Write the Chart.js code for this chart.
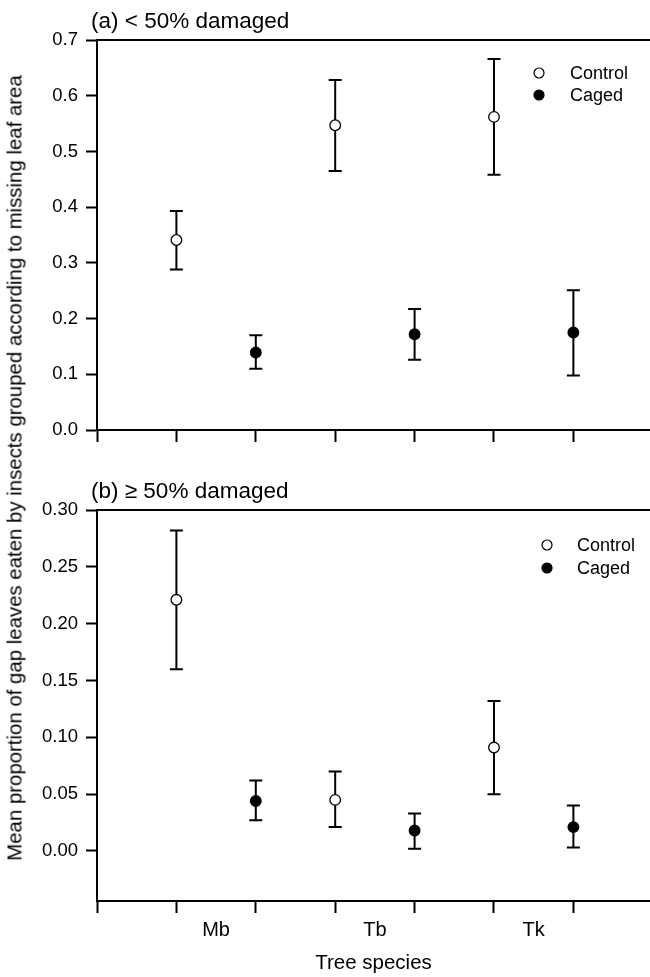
<!DOCTYPE html>
<html>
<head>
<meta charset="utf-8">
<script src="https://cdn.jsdelivr.net/npm/chart.js@4.4.1/dist/chart.umd.min.js"></script>
<style>
  body { margin: 0; background: #fff; }
  #wrap { position: relative; width: 650px; height: 977px; }
  canvas { position: absolute; left: 0; }
  #lowChart { top: 0; }
  #highChart { top: 460px; }
  #yTitle {
    position: absolute; left: 15px; top: 468px;
    transform: translate(-50%, -50%) rotate(-90deg);
    white-space: nowrap; color: #000;
    font: 20.4px "Liberation Sans", Arial, sans-serif;
  }
</style>
</head>
<body>
<div id="wrap">
  <canvas id="lowChart" width="650" height="460"></canvas>
  <canvas id="highChart" width="650" height="517"></canvas>
  <div id="yTitle">Mean proportion of gap leaves eaten by insects grouped according to missing leaf area</div>
</div>
<script>
//------------------------------------------------------------
// data
const species = ['Mb', 'Tb', 'Tk'];
const controlSlot = [1, 3, 5];
const cagedSlot = [2, 4, 6];
const speciesSlot = [1.5, 3.5, 5.5];

// (a) < 50% damaged
const lowControlMean = [0.341, 0.547, 0.562];
const lowControlLower = [0.288, 0.465, 0.458];
const lowControlUpper = [0.393, 0.628, 0.666];
const lowCagedMean = [0.139, 0.172, 0.175];
const lowCagedLower = [0.110, 0.126, 0.098];
const lowCagedUpper = [0.170, 0.217, 0.251];

// (b) >= 50% damaged
const highControlMean = [0.221, 0.045, 0.091];
const highControlLower = [0.160, 0.021, 0.050];
const highControlUpper = [0.282, 0.070, 0.132];
const highCagedMean = [0.044, 0.018, 0.021];
const highCagedLower = [0.027, 0.002, 0.003];
const highCagedUpper = [0.062, 0.033, 0.040];

const lowTicks = [0, 0.1, 0.2, 0.3, 0.4, 0.5, 0.6, 0.7];
const highTicks = [0, 0.05, 0.10, 0.15, 0.20, 0.25, 0.30];
const xTickValues = [0, 1, 1.5, 2, 3, 3.5, 4, 5, 5.5, 6];

//------------------------------------------------------------
const FONT = '"Liberation Sans", Arial, sans-serif';
Chart.defaults.font.family = FONT;
Chart.defaults.color = '#000';

const points = (slots, mean, lower, upper) =>
    slots.map((x, i) => ({ x: x, y: mean[i], lo: lower[i], hi: upper[i] }));

//----------------------------------
const errorBars = {
    id: 'errorBars',
    beforeDatasetsDraw(chart, args, opts) {
        const { ctx, scales: { x, y } } = chart;
        ctx.save();
        ctx.strokeStyle = '#000';
        ctx.lineWidth = 2;
        chart.data.datasets.forEach(ds => {
            ds.data.forEach(p => {
                const px = x.getPixelForValue(p.x);
                const top = y.getPixelForValue(p.hi);
                const bot = y.getPixelForValue(p.lo);
                ctx.beginPath();
                ctx.moveTo(px, top); ctx.lineTo(px, bot);
                ctx.moveTo(px - opts.cap, top); ctx.lineTo(px + opts.cap, top);
                ctx.moveTo(px - opts.cap, bot); ctx.lineTo(px + opts.cap, bot);
                ctx.stroke();
            });
        });
        ctx.restore();
    }
};

//----------------------------------
const cornerLegend = {
    id: 'cornerLegend',
    afterDatasetsDraw(chart, args, opts) {
        const { ctx, chartArea } = chart;
        ctx.save();
        chart.data.datasets.forEach((ds, i) => {
            const cx = chartArea.right - opts.right;
            const cy = chartArea.top + opts.top + i * opts.gap;
            ctx.beginPath();
            ctx.arc(cx, cy, 5, 0, Math.PI * 2);
            ctx.fillStyle = ds.backgroundColor;
            ctx.fill();
            ctx.lineWidth = 1.2;
            ctx.strokeStyle = '#000';
            ctx.stroke();
            ctx.fillStyle = '#000';
            ctx.font = '18px ' + FONT;
            ctx.textBaseline = 'middle';
            ctx.fillText(ds.label, cx + opts.textGap, cy + 1);
        });
        ctx.restore();
    }
};

//----------------------------------
const panelTitle = {
    id: 'panelTitle',
    afterDraw(chart, args, opts) {
        const { ctx, chartArea } = chart;
        ctx.save();
        ctx.font = '22.5px ' + FONT;
        ctx.fillStyle = '#000';
        ctx.textBaseline = 'middle';
        ctx.fillText(opts.text, chartArea.left - 6, chartArea.top - 18);
        ctx.restore();
    }
};

//----------------------------------
function makeChart(id, cfg) {
    const tickColor = c => Number.isInteger(c.tick.value) ? '#000' : 'rgba(0,0,0,0)';
    return new Chart(document.getElementById(id), {
        type: 'scatter',
        data: {
            datasets: [
                {
                    label: 'Control',
                    data: cfg.control,
                    backgroundColor: '#fff',
                    borderColor: '#000',
                    borderWidth: 1.3,
                    pointRadius: 5.3,
                },
                {
                    label: 'Caged',
                    data: cfg.caged,
                    backgroundColor: '#000',
                    borderColor: '#000',
                    borderWidth: 1.3,
                    pointRadius: 5.3,
                },
            ],
        },
        options: {
            responsive: false,
            animation: false,
            layout: { autoPadding: false, padding: { top: cfg.padTop, left: 0, right: 0, bottom: 0 } },
            plugins: {
                legend: { display: false },
                tooltip: { enabled: false },
                errorBars: { cap: 6.5 },
                cornerLegend: cfg.legend,
                panelTitle: { text: cfg.title },
            },
            scales: {
                x: {
                    type: 'linear',
                    position: 'bottom',
                    min: 0,
                    max: 6.965,
                    afterBuildTicks: s => { s.ticks = xTickValues.map(v => ({ value: v })); },
                    afterFit: s => { s.height = cfg.xHeight; },
                    border: { color: '#000', width: 2 },
                    grid: {
                        drawOnChartArea: false,
                        tickLength: 12,
                        tickWidth: 2,
                        tickColor: tickColor,
                        color: tickColor,
                    },
                    ticks: {
                        display: cfg.showNames,
                        autoSkip: false,
                        maxRotation: 0,
                        padding: 5,
                        font: { size: 20 },
                        callback: v => {
                            const i = speciesSlot.indexOf(v);
                            return i >= 0 ? species[i] : '';
                        },
                    },
                    title: {
                        display: cfg.showNames,
                        text: 'Tree species',
                        font: { size: 20.5, lineHeight: 1.2 },
                        padding: { top: 0, bottom: 1 },
                    },
                },
                xTop: {
                    type: 'linear',
                    position: 'top',
                    min: 0,
                    max: 6.965,
                    afterFit: s => { s.height = 0; },
                    border: { display: true, color: '#000', width: 2 },
                    grid: { display: false },
                    ticks: { display: false },
                },
                y: {
                    min: cfg.yMin,
                    max: cfg.yMax,
                    afterBuildTicks: s => { s.ticks = cfg.yTicks.map(v => ({ value: v })); },
                    afterFit: s => { s.width = 97; },
                    border: { color: '#000', width: 2 },
                    grid: {
                        drawOnChartArea: false,
                        tickLength: 11,
                        tickWidth: 2,
                        tickColor: '#000',
                    },
                    ticks: {
                        padding: 8,
                        font: { size: 18.5 },
                        callback: v => v.toFixed(cfg.digits),
                    },
                },
            },
        },
        plugins: [errorBars, cornerLegend, panelTitle],
    });
}

//------------------------------------------------------------
makeChart('lowChart', {
    control: points(controlSlot, lowControlMean, lowControlLower, lowControlUpper),
    caged: points(cagedSlot, lowCagedMean, lowCagedLower, lowCagedUpper),
    title: '(a) < 50% damaged',
    padTop: 40,
    xHeight: 30,
    showNames: false,
    yMin: 0,
    yMax: 0.7,
    yTicks: lowTicks,
    digits: 1,
    legend: { right: 111, top: 33, gap: 22, textGap: 31 },
});

makeChart('highChart', {
    control: points(controlSlot, highControlMean, highControlLower, highControlUpper),
    caged: points(cagedSlot, highCagedMean, highCagedLower, highCagedUpper),
    title: '(b) \u2265 50% damaged',
    padTop: 50,
    xHeight: 76,
    showNames: true,
    yMin: -0.044,
    yMax: 0.30,
    yTicks: highTicks,
    digits: 2,
    legend: { right: 103, top: 35, gap: 23, textGap: 30 },
});
</script>
</body>
</html>
